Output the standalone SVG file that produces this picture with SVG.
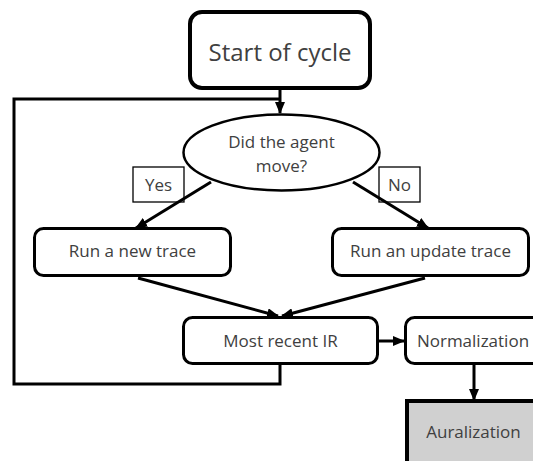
<svg xmlns="http://www.w3.org/2000/svg" width="533" height="461" viewBox="0 0 533 461">
<style>
  text { font-family: "Open Sans", "Noto Sans", sans-serif; fill: #404040; text-anchor: middle; }
  .box { fill: #ffffff; stroke: #000000; stroke-width: 3; }
  .conn { fill: none; stroke: #000000; stroke-width: 3; }
  .lbl { fill: #ffffff; stroke: #000000; stroke-width: 1.3; }
</style>
<defs>
  <marker id="arr" markerUnits="userSpaceOnUse" markerWidth="12" markerHeight="10" refX="11" refY="5" orient="auto">
    <path d="M0,0 L12,5 L0,10 Z" fill="#000000"/>
  </marker>
</defs>
<rect width="533" height="461" fill="#ffffff"/>
<g id="yes">
  <rect class="lbl" x="133" y="167" width="51" height="35"/>
  <text x="158.5" y="191" font-size="17">Yes</text>
</g>
<g id="no">
  <rect class="lbl" x="379" y="167" width="41" height="35"/>
  <text x="399.5" y="191" font-size="17">No</text>
</g>
<g id="connectors">
  <line class="conn" x1="280" y1="90" x2="280" y2="113" marker-end="url(#arr)"/>
  <line class="conn" x1="211" y1="182" x2="136" y2="228" marker-end="url(#arr)"/>
  <line class="conn" x1="353" y1="182" x2="428" y2="228" marker-end="url(#arr)"/>
  <line class="conn" x1="138" y1="278" x2="278" y2="316" marker-end="url(#arr)"/>
  <line class="conn" x1="425" y1="278" x2="282" y2="316" marker-end="url(#arr)"/>
  <line class="conn" x1="379" y1="341" x2="404" y2="341" marker-end="url(#arr)"/>
  <line class="conn" x1="474" y1="364" x2="474" y2="400" marker-end="url(#arr)"/>
  <polyline class="conn" points="280,364 280,384 14,384 14,99 280,99"/>
</g>
<g id="start">
  <rect x="190" y="12" width="180" height="76" rx="12" fill="#ffffff" stroke="#000000" stroke-width="4"/>
  <text x="280" y="61" font-size="24">Start of cycle</text>
</g>
<g id="decision">
  <ellipse cx="281.5" cy="152.5" rx="98" ry="38" fill="#ffffff" stroke="#000000" stroke-width="2.5"/>
  <text x="281.5" y="148" font-size="17">Did the agent</text>
  <text x="281.5" y="172" font-size="17">move?</text>
</g>
<g id="newtrace">
  <rect class="box" x="34.5" y="228.5" width="196" height="47" rx="9"/>
  <text x="132.5" y="257" font-size="17">Run a new trace</text>
</g>
<g id="updatetrace">
  <rect class="box" x="332.5" y="228.5" width="196" height="47" rx="9"/>
  <text x="430.5" y="257" font-size="17">Run an update trace</text>
</g>
<g id="ir">
  <rect class="box" x="183.5" y="317.5" width="194" height="46" rx="9"/>
  <text x="280.5" y="347" font-size="17">Most recent IR</text>
</g>
<g id="normalization">
  <rect class="box" x="405.5" y="317.5" width="160" height="46" rx="9"/>
  <text x="473" y="347" font-size="17">Normalization</text>
</g>
<g id="auralization">
  <rect x="407" y="401" width="160" height="80" fill="#d0d0d0" stroke="#000000" stroke-width="4"/>
  <text x="473.5" y="438" font-size="17">Auralization</text>
</g>
</svg>
